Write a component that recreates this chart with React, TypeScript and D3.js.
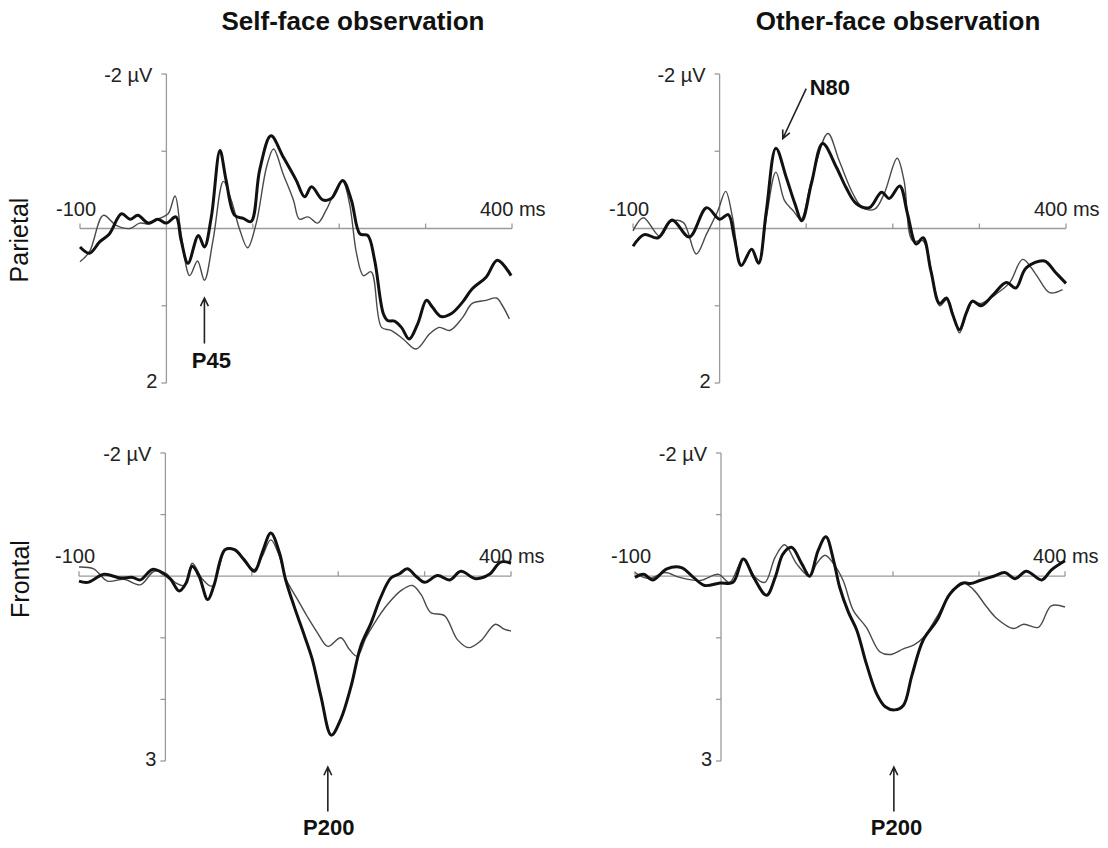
import React from 'react';
import * as d3 from 'd3';

// time (ms) and amplitude (µV); negative is drawn upward
const TIME_TICKS = [-100, 100, 200, 300, 400];
const PARIETAL_TICKS = [-2, -1, 0, 1, 2];
const FRONTAL_TICKS = [-2, -1, 0, 1, 2, 3];

type Pt = [number, number];

// Self-face, parietal
const selfParietalBold: Pt[] = [
  [-100, 0.24], [-89, 0.32], [-77, 0.17], [-66, 0.07], [-52, -0.19], [-42, -0.12], [-33, -0.17],
  [-21, -0.07], [-10, -0.12], [0, -0.07], [11, -0.15], [17, 0.15], [25, 0.45], [37, 0.09],
  [44, 0.24], [52, -0.15], [62, -1.01], [69, -0.63], [79, -0.17], [89, -0.13], [98, -0.09],
  [108, -0.76], [121, -1.2], [135, -0.93], [150, -0.63], [160, -0.41], [168, -0.54], [181, -0.37],
  [191, -0.39], [204, -0.62], [214, -0.37], [224, 0.07], [233, 0.09], [241, 0.41], [251, 1.1],
  [256, 1.19], [264, 1.2], [272, 1.28], [281, 1.43], [291, 1.23], [301, 0.93], [308, 1.02],
  [318, 1.14], [330, 1.1], [343, 0.95], [354, 0.78], [370, 0.63], [383, 0.41], [399, 0.61],
];
const selfParietalThin: Pt[] = [
  [-100, 0.43], [-89, 0.3], [-73, -0.17], [-58, -0.04], [-42, 0], [-31, -0.07], [-19, -0.06],
  [-8, -0.13], [2, -0.19], [10, -0.42], [17, 0.07], [27, 0.61], [36, 0.42], [44, 0.67],
  [54, 0.15], [66, -0.61], [75, -0.37], [85, 0.02], [94, 0.25], [104, -0.07], [116, -0.8],
  [124, -1.03], [135, -0.71], [147, -0.37], [154, -0.12], [164, -0.15], [175, -0.07], [185, -0.24],
  [197, -0.52], [204, -0.61], [212, -0.32], [220, 0.32], [228, 0.61], [237, 0.56], [249, 1.28],
  [260, 1.32], [274, 1.43], [289, 1.56], [305, 1.36], [316, 1.28], [328, 1.32], [343, 1.15],
  [354, 0.97], [370, 0.93], [382, 0.9], [389, 1.0], [397, 1.17],
];

// Other-face, parietal
const otherParietalBold: Pt[] = [
  [-100, 0.23], [-87, 0.08], [-71, 0.12], [-55, -0.11], [-35, 0.11], [-15, -0.27], [0, -0.12],
  [10, -0.18], [17, 0.12], [25, 0.48], [37, 0.27], [45, 0.45], [54, -0.23], [65, -1.04],
  [77, -0.66], [87, -0.32], [95, -0.1], [106, -0.58], [119, -1.1], [135, -0.79], [146, -0.53],
  [158, -0.32], [173, -0.27], [187, -0.47], [196, -0.39], [208, -0.55], [217, -0.19], [227, 0.2],
  [235, 0.12], [244, 0.55], [254, 0.97], [262, 0.9], [269, 1.11], [277, 1.31], [285, 1.09],
  [292, 0.94], [302, 1.0], [315, 0.87], [331, 0.7], [342, 0.77], [354, 0.51], [375, 0.42],
  [388, 0.57], [400, 0.71],
];
const otherParietalThin: Pt[] = [
  [-100, 0.03], [-88, -0.14], [-69, 0.1], [-56, -0.09], [-42, -0.08], [-27, 0.33], [-15, 0.07],
  [-2, -0.23], [7, -0.48], [15, -0.14], [25, 0.47], [37, 0.27], [45, 0.45], [54, -0.14],
  [65, -0.73], [75, -0.36], [85, -0.23], [94, -0.12], [106, -0.62], [125, -1.23], [138, -0.88],
  [154, -0.45], [165, -0.27], [179, -0.25], [190, -0.45], [205, -0.91], [213, -0.62], [223, 0.16],
  [235, 0.16], [246, 0.64], [254, 1.0], [263, 0.92], [277, 1.35], [290, 0.96], [302, 0.97],
  [319, 0.85], [335, 0.7], [350, 0.4], [365, 0.59], [381, 0.83], [396, 0.79],
];

// Self-face, frontal
const selfFrontalBold: Pt[] = [
  [-100, 0.08], [-90, 0.1], [-71, -0.03], [-52, 0.03], [-38, 0.02], [-29, 0.06], [-15, -0.11],
  [-2, -0.04], [6, 0.05], [16, 0.24], [24, 0.11], [31, -0.16], [39, 0], [49, 0.38], [56, 0.16],
  [69, -0.43], [80, -0.43], [91, -0.27], [103, -0.08], [112, -0.38], [122, -0.7], [132, -0.38],
  [139, 0.05], [149, 0.49], [161, 0.97], [170, 1.35], [180, 1.95], [192, 2.58], [203, 2.32],
  [215, 1.78], [226, 1.14], [238, 0.76], [249, 0.35], [261, 0.03], [271, -0.04], [280, -0.12],
  [290, 0], [300, 0.1], [315, -0.01], [329, 0.06], [342, -0.08], [359, 0.04], [375, -0.03],
  [388, -0.23], [400, -0.21],
];
const selfFrontalThin: Pt[] = [
  [-100, -0.15], [-83, -0.12], [-67, 0.08], [-48, 0.05], [-29, 0.14], [-13, -0.08], [0, -0.05],
  [12, 0.11], [22, 0.15], [31, -0.21], [43, 0.05], [54, 0.16], [71, -0.46], [83, -0.39],
  [93, -0.21], [103, -0.11], [112, -0.32], [122, -0.59], [132, -0.32], [139, 0.03], [153, 0.38],
  [164, 0.65], [176, 0.92], [188, 1.14], [203, 1.0], [213, 1.19], [222, 1.3], [232, 1.0],
  [242, 0.76], [257, 0.46], [273, 0.23], [286, 0.15], [296, 0.3], [307, 0.59], [323, 0.64],
  [338, 1.03], [351, 1.16], [365, 1.05], [382, 0.78], [392, 0.86], [400, 0.89],
];

// Other-face, frontal
const otherFrontalBold: Pt[] = [
  [-100, 0.02], [-90, -0.03], [-79, 0.06], [-63, -0.12], [-46, -0.14], [-32, 0.02], [-19, 0.15],
  [-1, 0.11], [14, 0.1], [26, -0.28], [38, 0.02], [53, 0.31], [63, 0.02], [72, -0.36],
  [82, -0.47], [94, -0.2], [103, 0], [113, -0.42], [122, -0.64], [131, -0.25], [138, 0.18],
  [148, 0.58], [158, 0.88], [169, 1.42], [181, 1.91], [191, 2.12], [202, 2.17], [212, 2.1],
  [222, 1.61], [235, 1.04], [251, 0.72], [266, 0.29], [282, 0.11], [290, 0.12], [301, 0.07],
  [317, 0], [330, -0.06], [342, 0.04], [355, -0.08], [373, 0.06], [384, -0.1], [400, -0.25],
];
const otherFrontalThin: Pt[] = [
  [-100, -0.06], [-84, 0.04], [-65, -0.06], [-48, 0.02], [-24, 0.07], [-3, -0.03], [10, 0.1],
  [26, -0.28], [40, 0.02], [51, 0.1], [63, -0.31], [74, -0.51], [88, -0.2], [103, 0],
  [111, -0.2], [121, -0.34], [131, -0.2], [142, 0.07], [154, 0.56], [169, 0.83], [185, 1.23],
  [198, 1.27], [212, 1.18], [224, 1.12], [235, 1.0], [251, 0.66], [266, 0.31], [280, 0.1],
  [293, 0.21], [309, 0.5], [321, 0.69], [340, 0.85], [352, 0.78], [369, 0.83], [384, 0.48],
  [400, 0.5],
];

const FONT = "'Liberation Sans', Arial, sans-serif";
const AXIS_COLOR = '#9a9a9a';

type Note = { text: string; from: Pt; to: Pt; at: Pt; anchor: string };

const Panel = ({ x0, x1, yTop, yBottom, domain, ticks, bold, thin, notes }: any) => {
  const x = d3.scaleLinear().domain([-100, 400]).range([x0, x1]);
  const y = d3.scaleLinear().domain(domain).range([yTop, yBottom]);
  const line = d3.line<Pt>()
    .x(d => x(d[0]))
    .y(d => y(d[1]))
    .curve(d3.curveCatmullRom.alpha(0.5));

  const arrow = (n: Note, i: number) => {
    const ax = x(n.from[0]), ay = y(n.from[1]);
    const bx = x(n.to[0]), by = y(n.to[1]);
    const ang = Math.atan2(by - ay, bx - ax);
    const len = 9, spread = 0.45;
    const h1 = [bx - len * Math.cos(ang - spread), by - len * Math.sin(ang - spread)];
    const h2 = [bx - len * Math.cos(ang + spread), by - len * Math.sin(ang + spread)];
    return (
      <g key={i}>
        <path
          d={`M${ax},${ay}L${bx},${by}M${h1[0]},${h1[1]}L${bx},${by}L${h2[0]},${h2[1]}`}
          fill="none" stroke="#222" strokeWidth={1.6}
        />
        <text x={x(n.at[0])} y={y(n.at[1])} textAnchor={n.anchor}
          fontSize={22} fontWeight="bold" fill="#111">{n.text}</text>
      </g>
    );
  };

  return (
    <g fontFamily={FONT}>
      {/* vertical axis */}
      <line x1={x(0)} x2={x(0)} y1={y(domain[0])} y2={y(domain[1])} stroke={AXIS_COLOR} strokeWidth={1.3} />
      {ticks.map((t: number) => (
        <line key={t} x1={x(0) - 5} x2={x(0)} y1={y(t)} y2={y(t)} stroke={AXIS_COLOR} strokeWidth={1.3} />
      ))}
      {/* horizontal axis */}
      <line x1={x(-100)} x2={x(400)} y1={y(0)} y2={y(0)} stroke={AXIS_COLOR} strokeWidth={1.3} />
      {TIME_TICKS.map(t => (
        <line key={t} x1={x(t)} x2={x(t)} y1={y(0) - 5} y2={y(0)} stroke={AXIS_COLOR} strokeWidth={1.3} />
      ))}
      <text x={x(0) - 14} y={y(domain[0]) + 8} textAnchor="end" fontSize={20} fill="#222">-2 µV</text>
      <text x={x(0) - 9} y={y(domain[1]) + 5} textAnchor="end" fontSize={20} fill="#222">{domain[1]}</text>
      <text x={x(-100) - 4} y={y(0) - 13} textAnchor="middle" fontSize={20} fill="#222">-100</text>
      <text x={x(400) - 32} y={y(0) - 13} fontSize={20} fill="#222">400 ms</text>

      <path d={line(thin) || ''} fill="none" stroke="#4a4a4a" strokeWidth={1.4} />
      <path d={line(bold) || ''} fill="none" stroke="#111" strokeWidth={3} />
      {(notes || []).map(arrow)}
    </g>
  );
};

export default function App() {
  return (
    <svg width={1108} height={848} style={{ position: 'absolute', left: 0, top: 0, background: '#fff' }}>
      <rect width={1108} height={848} fill="#fff" />
      <g fontFamily={FONT} fill="#111">
        <text x={353} y={30} textAnchor="middle" fontSize={26} fontWeight="bold">Self-face observation</text>
        <text x={898} y={30} textAnchor="middle" fontSize={26} fontWeight="bold">Other-face observation</text>
        <text transform="translate(28,240) rotate(-90)" textAnchor="middle" fontSize={25}>Parietal</text>
        <text transform="translate(29,579) rotate(-90)" textAnchor="middle" fontSize={25}>Frontal</text>
      </g>

      <Panel x0={80} x1={512} yTop={74} yBottom={383} domain={[-2, 2]} ticks={PARIETAL_TICKS}
        bold={selfParietalBold} thin={selfParietalThin}
        notes={[{ text: 'P45', from: [44, 1.49], to: [44, 0.9], at: [52, 1.81], anchor: 'middle' }]} />
      <Panel x0={633} x1={1066} yTop={74} yBottom={383} domain={[-2, 2]} ticks={PARIETAL_TICKS}
        bold={otherParietalBold} thin={otherParietalThin}
        notes={[{ text: 'N80', from: [100, -1.81], to: [73, -1.165], at: [104, -1.73], anchor: 'start' }]} />
      <Panel x0={79} x1={511} yTop={453} yBottom={761} domain={[-2, 3]} ticks={FRONTAL_TICKS}
        bold={selfFrontalBold} thin={selfFrontalThin}
        notes={[{ text: 'P200', from: [188, 3.82], to: [188, 3.1], at: [189, 4.2], anchor: 'middle' }]} />
      <Panel x0={635} x1={1065} yTop={453} yBottom={761} domain={[-2, 3]} ticks={FRONTAL_TICKS}
        bold={otherFrontalBold} thin={otherFrontalThin}
        notes={[{ text: 'P200', from: [201, 3.82], to: [201, 3.1], at: [204, 4.2], anchor: 'middle' }]} />
    </svg>
  );
}
